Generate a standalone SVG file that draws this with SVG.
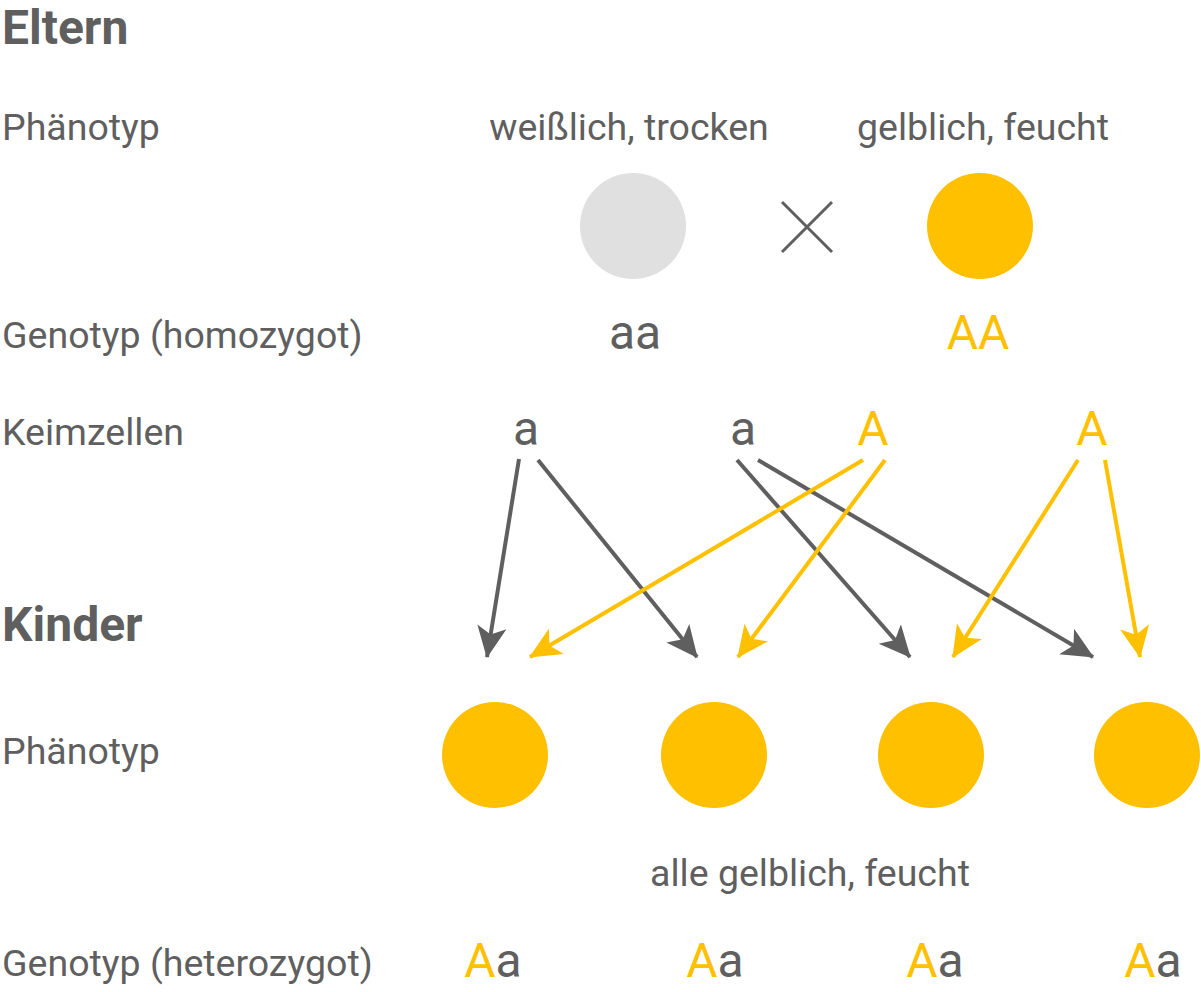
<svg xmlns="http://www.w3.org/2000/svg" width="1201" height="992" viewBox="0 0 1201 992">
<style>
text{font-family:Roboto,"Liberation Sans",sans-serif;fill:#5f5f5f}
.l{font-size:37.5px}
.h{font-size:48px;font-weight:bold}
.g{font-size:48px;text-anchor:middle}
.c{font-size:37.5px;text-anchor:middle}
.y{fill:#ffc000}
.ag{stroke:#5f5f5f;stroke-width:4;fill:none}
.ay{stroke:#ffc000;stroke-width:4;fill:none}
</style>
<defs>
<marker id="mg" markerUnits="userSpaceOnUse" markerWidth="34" markerHeight="34" refX="27" refY="13" orient="auto" viewBox="0 0 30 26"><path d="M0,0 L28,13 L0,26 L7,13 Z" fill="#5f5f5f"/></marker>
<marker id="my" markerUnits="userSpaceOnUse" markerWidth="34" markerHeight="34" refX="27" refY="13" orient="auto" viewBox="0 0 30 26"><path d="M0,0 L28,13 L0,26 L7,13 Z" fill="#ffc000"/></marker>
</defs>
<g id="labels">
<text class="h" x="2" y="44">Eltern</text>
<text class="l" x="2" y="140">Phänotyp</text>
<text class="l" x="2" y="348">Genotyp (homozygot)</text>
<text class="l" x="2" y="445">Keimzellen</text>
<text class="h" x="2" y="641">Kinder</text>
<text class="l" x="2" y="764">Phänotyp</text>
<text class="l" x="2" y="976">Genotyp (heterozygot)</text>
</g>
<g id="parent1">
<text class="c" x="629" y="140">weißlich, trocken</text>
<circle cx="633" cy="226" r="53" fill="#e0e0e0"/>
<text class="g" x="635" y="349">aa</text>
</g>
<g id="cross"><path d="M782,202 L832,252 M832,202 L782,252" stroke="#5f5f5f" stroke-width="3"/></g>
<g id="parent2">
<text class="c" x="983" y="140">gelblich, feucht</text>
<circle cx="980" cy="226" r="53" fill="#ffc000"/>
<text class="g y" x="978" y="349">AA</text>
</g>
<g id="gametes">
<text class="g" x="526" y="445">a</text>
<text class="g" x="743" y="445">a</text>
<text class="g y" x="873" y="445">A</text>
<text class="g y" x="1092" y="445">A</text>
</g>
<g id="connectors">
<line class="ag" x1="519" y1="459" x2="487" y2="657" marker-end="url(#mg)"/>
<line class="ag" x1="538" y1="460" x2="697" y2="657" marker-end="url(#mg)"/>
<line class="ag" x1="737" y1="460" x2="910" y2="657" marker-end="url(#mg)"/>
<line class="ag" x1="758" y1="460" x2="1093" y2="657" marker-end="url(#mg)"/>
<line class="ay" x1="863" y1="460" x2="530" y2="657" marker-end="url(#my)"/>
<line class="ay" x1="885" y1="460" x2="738" y2="657" marker-end="url(#my)"/>
<line class="ay" x1="1078" y1="460" x2="953" y2="657" marker-end="url(#my)"/>
<line class="ay" x1="1105" y1="460" x2="1140" y2="657" marker-end="url(#my)"/>
</g>
<g id="child1"><circle cx="495" cy="755" r="53" fill="#ffc000"/><text class="g" x="493" y="977"><tspan class="y">A</tspan>a</text></g>
<g id="child2"><circle cx="714" cy="755" r="53" fill="#ffc000"/><text class="g" x="715" y="977"><tspan class="y">A</tspan>a</text></g>
<g id="child3"><circle cx="931" cy="755" r="53" fill="#ffc000"/><text class="g" x="935" y="977"><tspan class="y">A</tspan>a</text></g>
<g id="child4"><circle cx="1147" cy="755" r="53" fill="#ffc000"/><text class="g" x="1153" y="977"><tspan class="y">A</tspan>a</text></g>
<text class="c" x="810" y="886">alle gelblich, feucht</text>
</svg>
